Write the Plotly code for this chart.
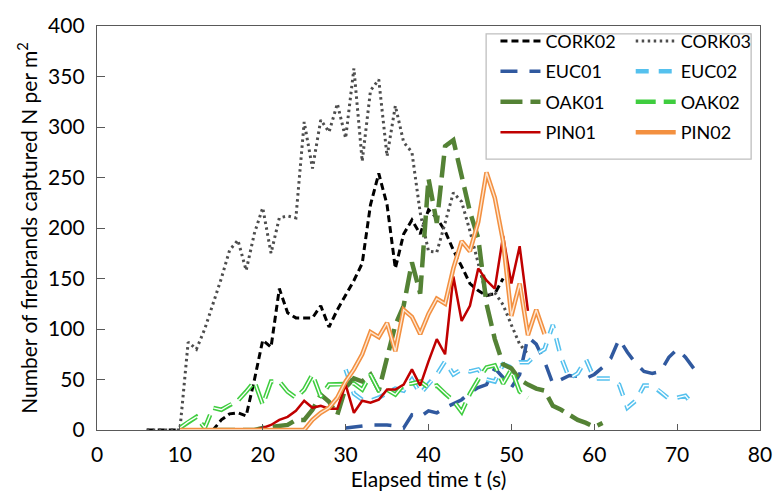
import plotly.graph_objects as go

# ---------------- data ----------------
cork02_t = list(range(6, 50))
cork02_v = [0, 0, 0, 0, 0, 0, 0, 0, 0, 10, 16, 17, 14, 50, 89, 82, 140, 116, 111, 111,
            111, 123, 102, 119, 133, 148, 165, 223, 254, 223, 160, 194, 208, 194, 218,
            210, 197, 178, 162, 145, 138, 133, 135, 150]

cork03_t = list(range(6, 53))
cork03_v = [0, 0, 0, 0, 0, 87, 80, 100, 125, 150, 178, 188, 158, 195, 220, 175, 210, 212,
            210, 305, 259, 307, 295, 323, 289, 358, 266, 336, 347, 271, 321, 285, 275, 215,
            177, 176, 205, 235, 226, 197, 165, 133, 136, 124, 104, 85, 75]

euc01_t = list(range(30, 73))
euc01_v = [2, 3, 4, 5, 5, 5, 4, 2, 15, 13, 19, 17, 22, 26, 30, 37, 42, 45, 61, 52, 42, 55,
           92, 85, 68, 46, 50, 54, 53, 51, 55, 62, 71, 90, 77, 66, 58, 56, 58, 72, 80, 72, 61]

euc02_t = list(range(30, 73))
euc02_v = [60, 36, 30, 29, 32, 36, 41, 39, 50, 36, 45, 55, 68, 55, 60, 58, 60, 50, 48, 65,
           62, 67, 67, 75, 80, 104, 72, 51, 56, 70, 51, 51, 51, 45, 22, 29, 44, 44, 38, 31,
           32, 34, 24]

oak01_t = list(range(14, 62))
oak01_v = [0, 0, 0, 0, 0, 0, 2, 3, 3, 5, 10, 10, 20, 35, 28, 15, 42, 51, 48, 55, 39, 70,
           104, 123, 166, 135, 249, 205, 281, 287, 249, 216, 190, 125, 90, 65, 61, 50, 45,
           41, 39, 24, 20, 15, 10, 7, 3, 7]

oak02_t = list(range(10, 53))
oak02_v = [2, 8, 13, 2, 22, 20, 25, 29, 38, 48, 25, 48, 48, 38, 32, 40, 55, 33, 45, 45,
           45, 46, 40, 55, 39, 40, 35, 45, 46, 48, 42, 44, 36, 29, 18, 36, 50, 62, 64, 46,
           60, 38, 32]

pin01_t = list(range(10, 53))
pin01_v = [0, 0, 0, 0, 0, 0, 0, 0, 0, 0, 2, 5, 10, 13, 19, 29, 22, 24, 21, 21, 45, 17,
           29, 27, 30, 40, 40, 45, 60, 44, 68, 90, 75, 152, 108, 123, 160, 148, 140, 192,
           145, 182, 118]

pin02_t = list(range(10, 55))
pin02_v = [0, 0, 0, 0, 0, 0, 0, 0, 0, 0, 0, 0, 0, 0, 0, 0, 10, 17, 22, 32, 48, 60, 75,
           97, 92, 106, 78, 119, 112, 95, 115, 130, 125, 160, 187, 177, 206, 255, 230, 187,
           113, 145, 94, 119, 95]

x_ticks = [0, 10, 20, 30, 40, 50, 60, 70, 80]
y_ticks = [0, 50, 100, 150, 200, 250, 300, 350, 400]

FONT = "Lato, Carlito, 'Open Sans', sans-serif"

fig = go.Figure()


def add(name, t, v, color, width, dash, legend, inner=None, inner_width=1.4):
    fig.add_trace(go.Scatter(
        x=t, y=v, mode="lines", name=name, legendgroup=name, legend=legend,
        line=dict(color=color, width=width, dash=dash), hoverinfo="skip"))
    if inner is not None:
        fig.add_trace(go.Scatter(
            x=t, y=v, mode="lines", name=name, legendgroup=name, legend=legend,
            showlegend=False,
            line=dict(color=inner, width=inner_width, dash=dash), hoverinfo="skip"))


add("CORK02", cork02_t, cork02_v, "#000000", 3, "7px,4px", "legend")
add("CORK03", cork03_t, cork03_v, "#4d4d4d", 3, "2.5px,3.5px", "legend2")
add("EUC01", euc01_t, euc01_v, "#30599f", 3.5, "17px,12px", "legend")
add("EUC02", euc02_t, euc02_v, "#55c1ee", 4.5, "13px,10px", "legend2", inner="#ffffff")
add("OAK01", oak01_t, oak01_v, "#548235", 4.5, "22px,8px", "legend")
add("OAK02", oak02_t, oak02_v, "#3fcd3f", 4.5, "20px,8px", "legend2", inner="#ffffff")
add("PIN01", pin01_t, pin01_v, "#c00000", 2.5, "solid", "legend")
add("PIN02", pin02_t, pin02_v, "#f39040", 4.5, "solid", "legend2", inner="#fde6d2")

axis_common = dict(
    showgrid=False, zeroline=False, showline=True, mirror=True,
    linecolor="#595959", linewidth=1.3,
    ticks="inside", tickcolor="#595959", tickwidth=1.3,
    tickfont=dict(family=FONT, size=21, color="#000000"),
)

fig.update_xaxes(range=[0, 80], tickvals=x_ticks, ticklen=6, ticklabelstandoff=6,
                 title=dict(text="Elapsed time t (s)", standoff=2,
                            font=dict(family=FONT, size=21, color="#000000")),
                 **axis_common)
fig.update_yaxes(range=[0, 400], tickvals=y_ticks, ticklen=8, ticklabelstandoff=7,
                 title=dict(text="Number of firebrands captured N per m<sup>2</sup>", standoff=4,
                            font=dict(family=FONT, size=21, color="#000000")),
                 **axis_common)

leg_common = dict(
    bgcolor="rgba(255,255,255,0)", borderwidth=0,
    font=dict(family=FONT, size=18, color="#000000"),
    yanchor="top", xanchor="left", tracegroupgap=4, itemwidth=40,
)

fig.update_layout(
    width=784, height=498,
    margin=dict(l=97, r=14, t=17, b=68),
    paper_bgcolor="#ffffff", plot_bgcolor="#ffffff",
    legend=dict(x=0.601, y=1.008, **leg_common),
    legend2=dict(x=0.805, y=1.008, **leg_common),
    shapes=[dict(type="rect", xref="paper", yref="paper",
                 x0=(492 - 97) / 673, x1=(761 - 97) / 673,
                 y0=(430 - 153) / 413, y1=(430 - 25) / 413,
                 line=dict(color="#bfbfbf", width=1.3), fillcolor="#ffffff",
                 layer="below")],
    showlegend=True,
)

fig.write_html("out.html")
